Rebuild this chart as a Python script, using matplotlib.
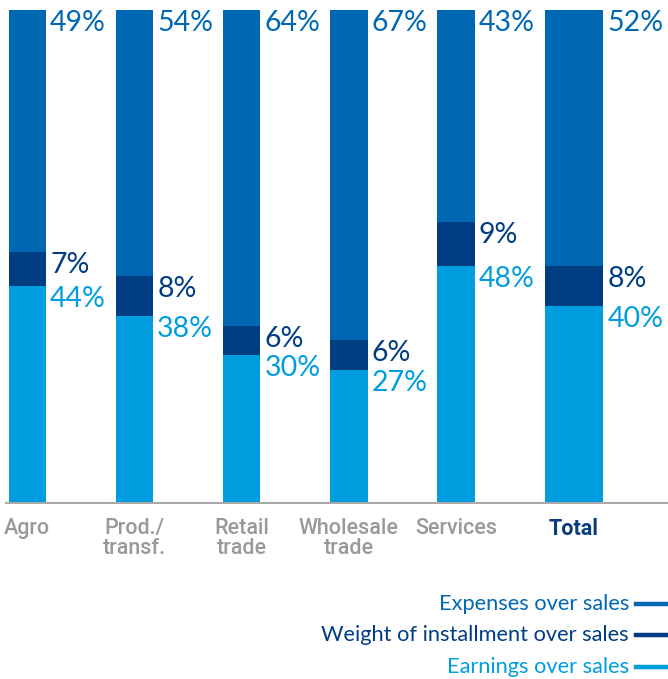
import matplotlib
matplotlib.use("Agg")
import matplotlib.pyplot as plt
from matplotlib.lines import Line2D

# Data
categories = ["Agro", "Prod./\ntransf.", "Retail\ntrade", "Wholesale\ntrade", "Services", "Total"]
earnings = [44, 38, 30, 27, 48, 40]
installment = [7, 8, 6, 6, 9, 8]
expenses = [49, 54, 64, 67, 43, 52]
series_names = ["Expenses over sales", "Weight of installment over sales", "Earnings over sales"]

C_EXP = "#0068B2"
C_INS = "#003D82"
C_EARN = "#009DDF"
C_GRAY = "#999999"

W, H, DPI = 668, 679, 100
fig = plt.figure(figsize=(W / DPI, H / DPI), dpi=DPI)

# axes placed in pixel units
ax_left, ax_right = 6, 668
ax_top, ax_bottom = 10, 503
ax = fig.add_axes([ax_left / W, 1 - ax_bottom / H, (ax_right - ax_left) / W, (ax_bottom - ax_top) / H])

step_px = 107.2
x0 = -2.5 / step_px
ax.set_xlim(x0, x0 + (ax_right - ax_left) / step_px)
ax.set_ylim(0, 100)

pos = list(range(len(categories)))
widths = [0.35] * (len(categories) - 1) + [0.55]

ax.bar(pos, earnings, width=widths, align="edge", color=C_EARN, linewidth=0)
ax.bar(pos, installment, width=widths, bottom=earnings, align="edge", color=C_INS, linewidth=0)
bottoms2 = [a + b for a, b in zip(earnings, installment)]
ax.bar(pos, expenses, width=widths, bottom=bottoms2, align="edge", color=C_EXP, linewidth=0)

pct_font = dict(family=["Lato", "DejaVu Sans"], fontsize=20.5, fontweight="normal")
gap = 4 / step_px
for i in pos:
    xr = i + widths[i] + gap
    tops = [
        (earnings[i], earnings[i], C_EARN),
        (bottoms2[i], installment[i], C_INS),
        (bottoms2[i] + expenses[i], expenses[i], C_EXP),
    ]
    for top, val, col in tops:
        ax.text(xr, top, f"{val}%", color=col, ha="left", va="top", **pct_font)

# category labels
ax.set_xticks([i + widths[i] / 2 for i in pos])
ax.set_xticklabels(categories)
ax.tick_params(axis="x", length=0, pad=11)
ax.set_yticks([])
for lbl in ax.get_xticklabels():
    lbl.set_fontfamily(["Roboto", "DejaVu Sans"])
    lbl.set_fontsize(15.5)
    lbl.set_fontweight("medium")
    lbl.set_color(C_GRAY)
    lbl.set_linespacing(0.95)
tot = ax.get_xticklabels()[-1]
tot.set_color("#0B3C80")
tot.set_fontweight("bold")

for s in ["top", "right", "left"]:
    ax.spines[s].set_visible(False)
ax.spines["bottom"].set_color("#AAAAAA")
ax.spines["bottom"].set_linewidth(1.5)

# legend drawn on the right, text right-aligned before its swatch
leg_y = [604, 635, 667]
leg_cols = [C_EXP, C_INS, C_EARN]
for name, col, yp in zip(series_names, leg_cols, leg_y):
    fy = 1 - yp / H
    fig.text(629 / W, fy, name, color=col, ha="right", va="center",
             family=["Lato", "DejaVu Sans"], fontsize=15.7, fontweight="normal")
    fig.add_artist(Line2D([636 / W, 668 / W], [fy, fy], color=col, linewidth=3.2,
                          transform=fig.transFigure))

fig.savefig("out.png", dpi=DPI)
